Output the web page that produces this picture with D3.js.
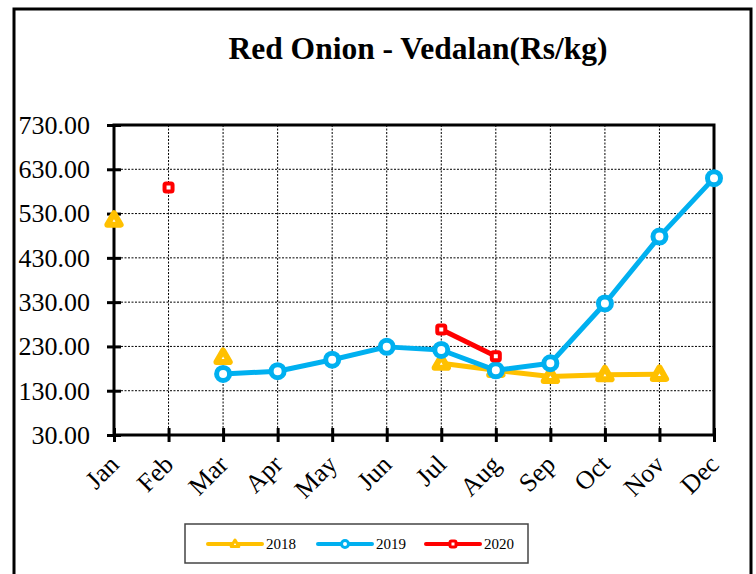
<!DOCTYPE html>
<html>
<head>
<meta charset="utf-8">
<script src="https://cdn.jsdelivr.net/npm/d3@7"></script>
<style>
  body { margin: 0; background: #fff; }
  text { font-family: "Liberation Serif", "Times New Roman", serif; }
</style>
</head>
<body>
<svg id="chart" width="756" height="574"></svg>
<script>
// chart data
const months = ["Jan", "Feb", "Mar", "Apr", "May", "Jun", "Jul", "Aug", "Sep", "Oct", "Nov", "Dec"];
const price2018 = [515, null, 205, null, null, null, 192, 176, 162, 166, 167, null];
const price2019 = [null, null, 168, 174, 200, 229, 222, 176, 192, 327, 478, 610];
const price2020 = [null, 589, null, null, null, null, 268, 208, null, null, null, null];
const yTicks = [30, 130, 230, 330, 430, 530, 630, 730];

const series = [
  { name: "2018", values: price2018, color: "#FFC000", shape: "triangle" },
  { name: "2019", values: price2019, color: "#00B0F0", shape: "circle" },
  { name: "2020", values: price2020, color: "#FF0000", shape: "square" }
];

const svg = d3.select("#chart");
const plotL = 114, plotR = 714, plotT = 125, plotB = 435;

// outer frame (open at the bottom)
svg.append("path")
  .attr("d", "M14,574 L14,9 L751,9 L751,574")
  .attr("fill", "none").attr("stroke", "#000").attr("stroke-width", 3);

svg.append("text")
  .attr("x", 418).attr("y", 59)
  .attr("text-anchor", "middle")
  .attr("font-size", 31.5).attr("font-weight", "bold")
  .text("Red Onion - Vedalan(Rs/kg)");

const x = d3.scalePoint().domain(months).range([plotL, plotR]);
const y = d3.scaleLinear().domain([30, 730]).range([plotB, plotT]);

// gridlines
svg.append("g").selectAll("line").data(yTicks.slice(1, -1)).join("line")
  .attr("x1", plotL).attr("x2", plotR)
  .attr("y1", d => y(d)).attr("y2", d => y(d))
  .attr("stroke", "#000").attr("stroke-width", 1).attr("stroke-dasharray", "2,1.5");
svg.append("g").selectAll("line").data(months.slice(1, -1)).join("line")
  .attr("x1", d => x(d)).attr("x2", d => x(d))
  .attr("y1", plotT).attr("y2", plotB)
  .attr("stroke", "#000").attr("stroke-width", 1).attr("stroke-dasharray", "2,1.5");

// plot frame
svg.append("rect")
  .attr("x", plotL).attr("y", plotT).attr("width", plotR - plotL).attr("height", plotB - plotT)
  .attr("fill", "none").attr("stroke", "#000").attr("stroke-width", 3);

// y axis
const yAxis = svg.append("g").attr("transform", `translate(${plotL},0)`)
  .call(d3.axisLeft(y).tickValues(yTicks).tickFormat(d3.format(".2f")).tickSize(7).tickPadding(17));
yAxis.select(".domain").remove();
yAxis.selectAll(".tick line").attr("x2", 7).attr("x1", -7).attr("stroke-width", 3);
yAxis.selectAll("text").attr("font-size", 26).attr("fill", "#000")
  .attr("font-family", "'Liberation Serif', serif");

// x axis
const xAxis = svg.append("g").attr("transform", `translate(0,${plotB})`)
  .call(d3.axisBottom(x).tickSize(7).tickPadding(0));
xAxis.select(".domain").remove();
xAxis.selectAll(".tick line").attr("y1", -7).attr("y2", 7).attr("stroke-width", 3);
xAxis.selectAll("text")
  .attr("font-size", 26).attr("fill", "#000")
  .attr("font-family", "'Liberation Serif', serif")
  .attr("text-anchor", "end")
  .attr("dy", 0)
  .attr("y", 0)
  .attr("transform", "translate(6,31) rotate(-45)");

// lines and markers
const line = d3.line()
  .defined(d => d.v != null)
  .x(d => x(d.m)).y(d => y(d.v));

function marker(g, shape, color, size, sw) {
  if (shape === "triangle") {
    const s = size;
    g.append("path")
      .attr("d", `M0,${-s} L${s * 0.95},${s * 0.65} L${-s * 0.95},${s * 0.65} Z`)
      .attr("fill", "#fff").attr("stroke", color).attr("stroke-width", sw)
      .attr("stroke-linejoin", "round");
  } else if (shape === "circle") {
    g.append("circle").attr("r", size)
      .attr("fill", "#fff").attr("stroke", color).attr("stroke-width", sw);
  } else {
    g.append("rect").attr("x", -size).attr("y", -size)
      .attr("width", size * 2).attr("height", size * 2).attr("rx", 1.5)
      .attr("fill", "#fff").attr("stroke", color).attr("stroke-width", sw);
  }
}

const sizes = { triangle: 7, circle: 6.5, square: 4 };
const strokes = { triangle: 6, circle: 5, square: 4 };

series.forEach(s => {
  const pts = months.map((m, i) => ({ m, v: s.values[i] }));
  svg.append("path").datum(pts)
    .attr("d", line)
    .attr("fill", "none").attr("stroke", s.color).attr("stroke-width", 5)
    .attr("stroke-linejoin", "round");
  pts.filter(d => d.v != null).forEach(d => {
    const g = svg.append("g").attr("transform", `translate(${x(d.m)},${y(d.v)})`);
    marker(g, s.shape, s.color, sizes[s.shape], strokes[s.shape]);
  });
});

// legend
svg.append("rect")
  .attr("x", 185).attr("y", 524).attr("width", 343).attr("height", 39)
  .attr("fill", "#fff").attr("stroke", "#444").attr("stroke-width", 1.5);

const legendX = [208, 318, 426];
series.forEach((s, i) => {
  const lx = legendX[i], ly = 544;
  svg.append("line")
    .attr("x1", lx).attr("x2", lx + 54).attr("y1", ly).attr("y2", ly)
    .attr("stroke", s.color).attr("stroke-width", 4).attr("stroke-linecap", "round");
  const g = svg.append("g").attr("transform", `translate(${lx + 27},${ly})`);
  marker(g, s.shape, s.color, s.shape === "triangle" ? 4 : s.shape === "circle" ? 3.5 : 3, 3);
  svg.append("text")
    .attr("x", lx + 58).attr("y", ly + 5)
    .attr("font-size", 15).attr("fill", "#000")
    .text(s.name);
});
</script>
</body>
</html>
